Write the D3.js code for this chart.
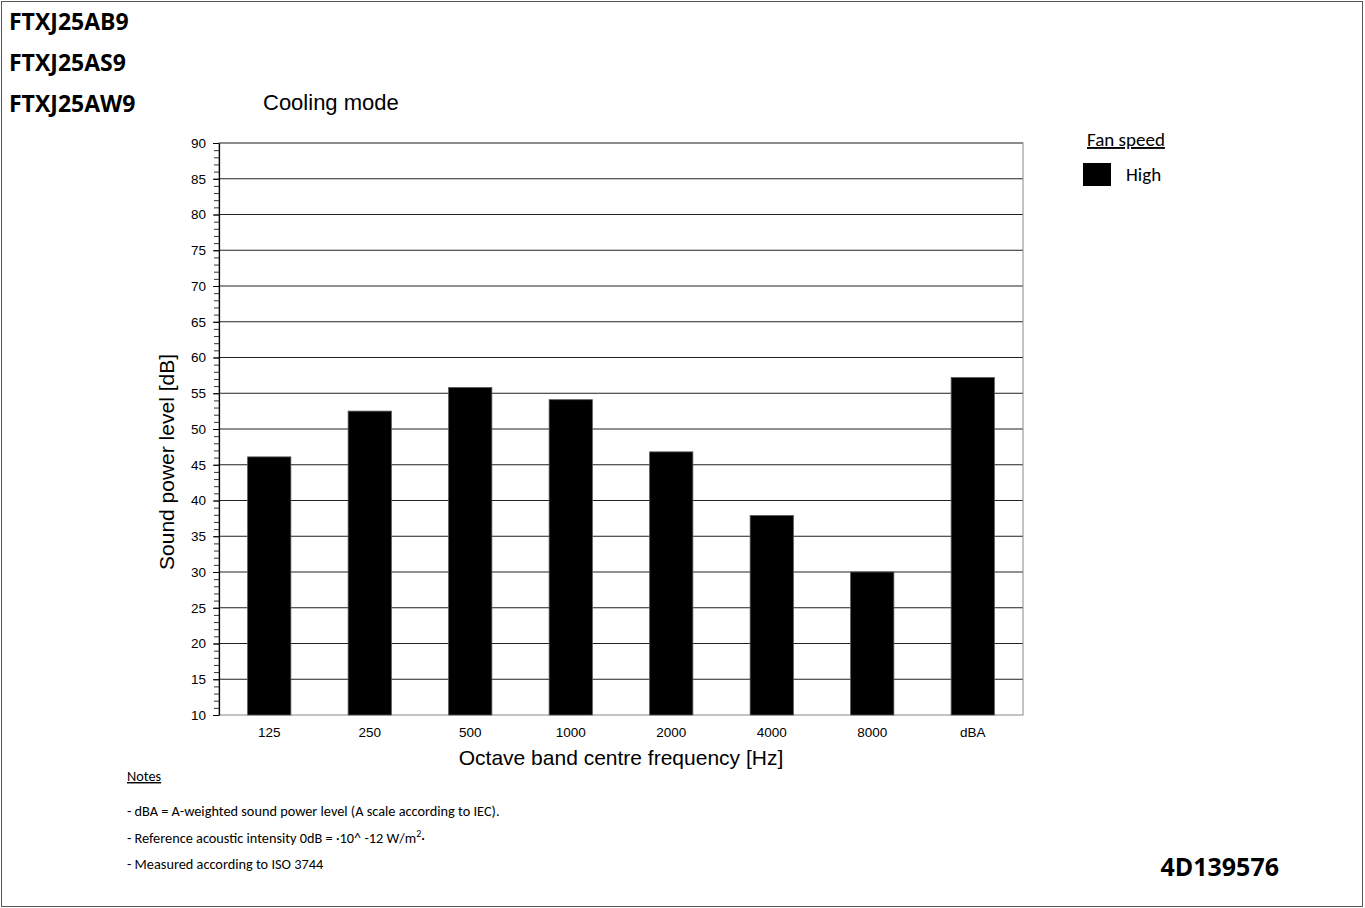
<!DOCTYPE html>
<html>
<head>
<meta charset="utf-8">
<script src="https://cdn.jsdelivr.net/npm/d3@7"></script>
<style>
  body { margin: 0; background: #fff; }
  svg { display: block; }
</style>
</head>
<body>
<div id="chart-area"></div>
<script>
// data
var bands = ["125", "250", "500", "1000", "2000", "4000", "8000", "dBA"];
var highLevels = [46.1, 52.5, 55.8, 54.1, 46.8, 37.9, 30.0, 57.2];
var yTicks = [10, 15, 20, 25, 30, 35, 40, 45, 50, 55, 60, 65, 70, 75, 80, 85, 90];
var models = ["FTXJ25AB9", "FTXJ25AS9", "FTXJ25AW9"];
var notes = [
    "- dBA = A-weighted sound power level (A scale according to IEC).",
    "- Reference acoustic intensity 0dB = \u00b710^ -12 W/m",
    "- Measured according to ISO 3744"
];

var W = 1365, H = 908;
var boldFont = "'Open Sans', Carlito, sans-serif";
var sideFont = "Carlito, Lato, 'Open Sans', sans-serif";
var chartFont = "Arial, 'Liberation Sans', sans-serif";

var svg = d3.select("#chart-area")
    .append("svg")
    .attr("width", W)
    .attr("height", H);

// page frame
svg.append("rect")
    .attr("x", 1.5).attr("y", 1.5)
    .attr("width", W - 4).attr("height", H - 3)
    .attr("fill", "none")
    .attr("stroke", "#555")
    .attr("stroke-width", 1);

// model names
svg.selectAll("text.model")
    .data(models)
    .enter()
    .append("text")
    .attr("class", "model")
    .attr("x", 9)
    .attr("y", function(d, i) { return 30 + i * 41; })
    .attr("font-family", boldFont)
    .attr("font-weight", "bold")
    .attr("font-size", "23px")
    .text(function(d) { return d; });

svg.append("text")
    .attr("x", 263)
    .attr("y", 110)
    .attr("font-family", chartFont)
    .attr("font-size", "22px")
    .text("Cooling mode");

// plot area
var pLeft = 219, pTop = 143, pRight = 1023, pBottom = 715;
var g = svg.append("g");

var x = d3.scaleBand()
    .domain(bands)
    .range([pLeft, pRight])
    .paddingInner(0.57)
    .paddingOuter(0.285);

var y = d3.scaleLinear()
    .domain([10, 90])
    .range([pBottom, pTop]);

// grid lines
g.selectAll("line.grid")
    .data(yTicks.slice(1))
    .enter()
    .append("line")
    .attr("class", "grid")
    .attr("x1", pLeft).attr("x2", pRight)
    .attr("y1", function(d) { return y(d); })
    .attr("y2", function(d) { return y(d); })
    .attr("stroke", "#222")
    .attr("stroke-width", 1);

// plot border
g.append("rect")
    .attr("x", pLeft).attr("y", pTop)
    .attr("width", pRight - pLeft).attr("height", pBottom - pTop)
    .attr("fill", "none")
    .attr("stroke", "#888")
    .attr("stroke-width", 1);

// bars
g.selectAll("rect.bar")
    .data(highLevels)
    .enter()
    .append("rect")
    .attr("class", "bar")
    .attr("x", function(d, i) { return x(bands[i]); })
    .attr("y", function(d) { return y(d); })
    .attr("width", x.bandwidth())
    .attr("height", function(d) { return y(10) - y(d); })
    .attr("fill", "#000")
    .attr("stroke", "#555")
    .attr("stroke-width", 0.8);

// y axis with minor ticks every 1 dB
var yMinor = g.append("g")
    .attr("transform", "translate(" + pLeft + ",0)")
    .call(d3.axisLeft(y).ticks(80).tickSize(5).tickFormat(""));
yMinor.select(".domain").remove();
yMinor.selectAll("line").attr("stroke", "#333");

var yAxis = g.append("g")
    .attr("transform", "translate(" + pLeft + ",0)")
    .call(d3.axisLeft(y).tickValues(yTicks).tickSize(6).tickSizeOuter(0).tickPadding(7));
yAxis.select(".domain").attr("stroke", "#000").attr("stroke-width", 1.2);
yAxis.selectAll("text")
    .attr("font-family", chartFont)
    .attr("font-size", "13.5px")
    .attr("fill", "#000");

// x axis labels
var xAxis = g.append("g")
    .attr("transform", "translate(0," + pBottom + ")")
    .call(d3.axisBottom(x).tickSize(0).tickPadding(12));
xAxis.select(".domain").remove();
xAxis.selectAll("text")
    .attr("font-family", chartFont)
    .attr("font-size", "13.5px")
    .attr("fill", "#000");

// axis titles
svg.append("text")
    .attr("x", (pLeft + pRight) / 2)
    .attr("y", 765)
    .attr("text-anchor", "middle")
    .attr("font-family", chartFont)
    .attr("font-size", "21px")
    .text("Octave band centre frequency [Hz]");

svg.append("text")
    .attr("transform", "translate(174,462) rotate(-90)")
    .attr("text-anchor", "middle")
    .attr("font-family", chartFont)
    .attr("font-size", "21px")
    .text("Sound power level [dB]");

// legend
svg.append("text")
    .attr("x", 1087)
    .attr("y", 146)
    .attr("font-family", sideFont)
    .attr("font-size", "19px")
    .attr("text-decoration", "underline")
    .text("Fan speed");

svg.append("rect")
    .attr("x", 1083).attr("y", 163)
    .attr("width", 28).attr("height", 23)
    .attr("fill", "#000");

svg.append("text")
    .attr("x", 1126)
    .attr("y", 181)
    .attr("font-family", sideFont)
    .attr("font-size", "19px")
    .text("High");

// notes
svg.append("text")
    .attr("x", 127)
    .attr("y", 781)
    .attr("font-family", sideFont)
    .attr("font-size", "14.3px")
    .attr("text-decoration", "underline")
    .text("Notes");

var noteText = svg.selectAll("text.note")
    .data(notes)
    .enter()
    .append("text")
    .attr("class", "note")
    .attr("x", 127)
    .attr("y", function(d, i) { return 816 + i * 26.5; })
    .attr("font-family", sideFont)
    .attr("font-size", "14.3px")
    .text(function(d) { return d; });

// superscript on the second note
noteText.filter(function(d, i) { return i === 1; })
    .append("tspan")
    .attr("dy", -6)
    .attr("font-size", "10px")
    .text("2");
noteText.filter(function(d, i) { return i === 1; })
    .append("tspan")
    .attr("dy", 6)
    .text("\u00b7");

svg.append("text")
    .attr("x", 1279)
    .attr("y", 876)
    .attr("text-anchor", "end")
    .attr("font-family", boldFont)
    .attr("font-weight", "bold")
    .attr("font-size", "25px")
    .text("4D139576");
</script>
</body>
</html>
